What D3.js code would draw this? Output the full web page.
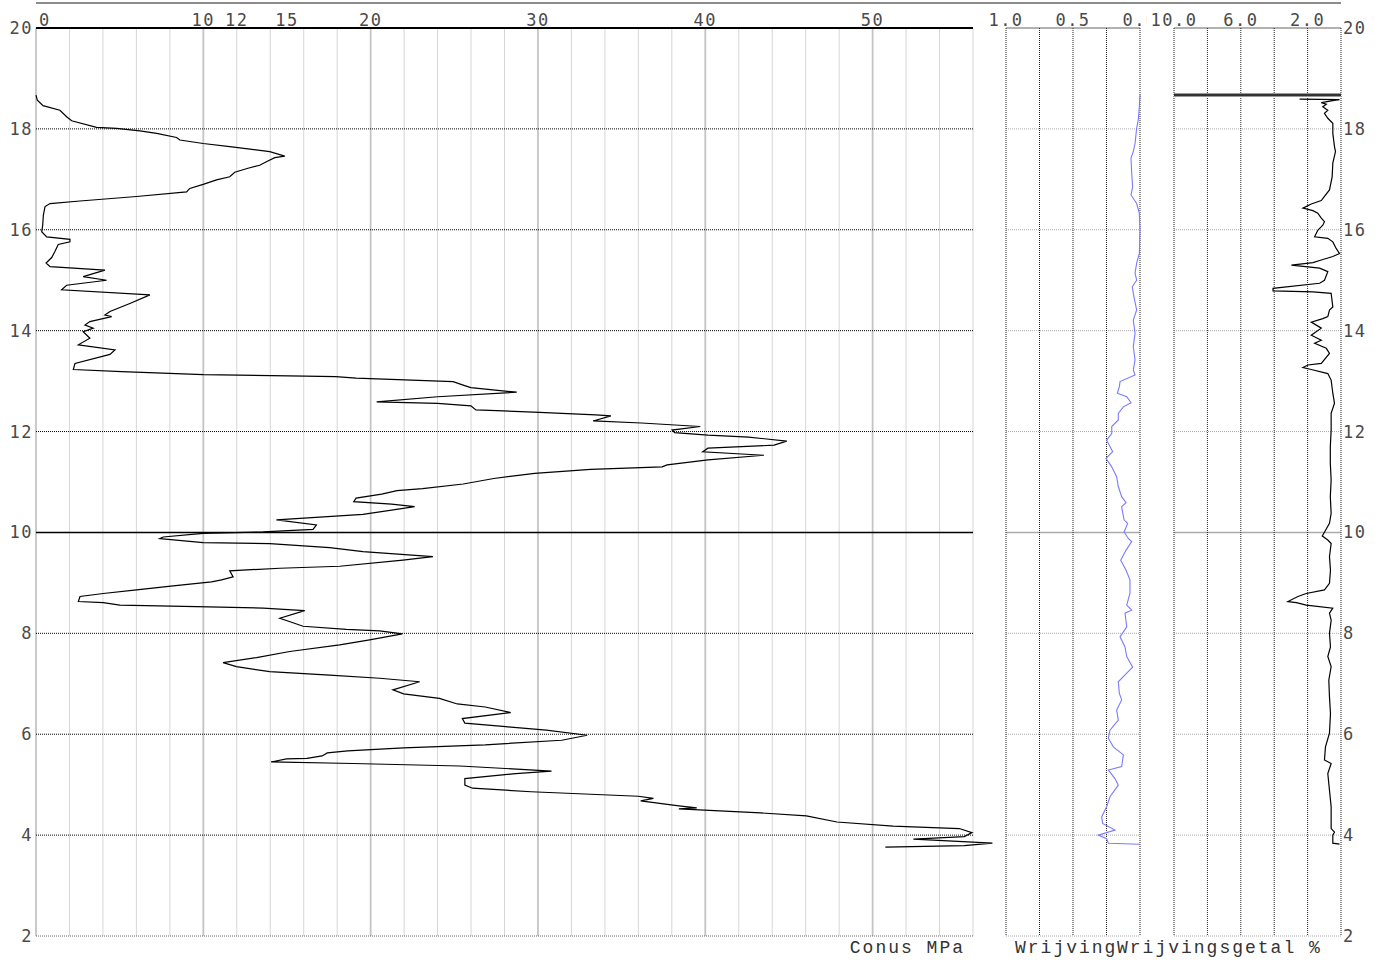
<!DOCTYPE html>
<html><head><meta charset="utf-8">
<script src="https://cdn.jsdelivr.net/npm/d3@7"></script>
<style>body{margin:0;background:#fff}svg{display:block}</style>
</head><body><svg id="c" width="1384" height="964"></svg>
<script>
// ---------- data ----------
const depthTicks = [20,18,16,14,12,10,8,6,4,2];
const coneGrid = [0,2,4,6,8,10,12,14,16,18,20,22,24,26,28,30,32,34,36,38,40,42,44,46,48,50,52,54,56];
const coneLabels = [0,10,12,15,20,30,40,50];
const frictionGrid = [1,0.75,0.5,0.25,0];
const frictionLabels = [1.0,0.5,0.0];
const ratioGrid = [10,8,6,4,2,0];
const ratioLabels = [10,6,2];
const titles = ["Conus MPa","Wrijving","Wrijvingsgetal %"];
const groundLevel = 18.67;

// [depth, cone resistance MPa]
const conePoints = [[18.67,0],[18.57,0.08],[18.46,0.42],[18.37,1.43],[18.24,1.83],[18.16,2.13],[18.03,3.62],[18.01,4.82],[17.96,6.21],[17.91,7.21],[17.83,8.40],[17.78,8.60],[17.71,9.99],[17.65,11.58],[17.55,13.97],[17.46,14.87],[17.43,14.27],[17.35,13.77],[17.28,13.37],[17.22,12.67],[17.14,11.88],[17.05,11.58],[16.99,10.79],[16.90,9.99],[16.82,9.19],[16.75,9.00],[16.66,6.01],[16.57,2.63],[16.52,0.84],[16.46,0.54],[16.29,0.44],[16.09,0.40],[15.96,0.34],[15.86,0.64],[15.81,2.03],[15.76,2.03],[15.71,1.33],[15.57,1.13],[15.45,0.94],[15.34,0.60],[15.27,0.84],[15.20,4.12],[15.07,2.82],[15.00,4.22],[14.90,1.83],[14.81,1.53],[14.71,6.81],[14.54,5.61],[14.38,4.42],[14.31,4.12],[14.28,4.52],[14.18,3.22],[14.11,2.93],[14.05,3.42],[13.98,2.82],[13.85,3.22],[13.72,2.53],[13.62,4.72],[13.53,4.42],[13.35,2.33],[13.23,2.23],[13.19,5.12],[13.13,10.00],[13.10,16.09],[13.09,17.91],[13.06,19.13],[12.99,24.93],[12.92,25.53],[12.87,25.99],[12.78,28.73],[12.69,24.00],[12.59,20.36],[12.56,24.00],[12.51,25.99],[12.43,26.29],[12.38,30.09],[12.33,33.45],[12.31,34.36],[12.21,33.30],[12.17,36.18],[12.10,39.70],[12.03,38.02],[11.98,38.17],[11.93,40.16],[11.89,42.59],[11.81,44.87],[11.73,44.11],[11.67,40.16],[11.60,39.85],[11.53,43.50],[11.44,40.16],[11.34,37.72],[11.30,37.42],[11.25,33.15],[11.17,29.80],[11.07,27.36],[10.96,25.53],[10.87,23.10],[10.83,21.57],[10.76,20.66],[10.68,19.13],[10.61,18.99],[10.56,21.25],[10.51,22.63],[10.36,19.54],[10.25,14.37],[10.15,16.76],[10.06,16.56],[10.01,13.57],[9.98,9.99],[9.91,7.60],[9.88,7.40],[9.80,9.99],[9.78,13.97],[9.70,17.55],[9.62,19.54],[9.52,23.72],[9.45,21.93],[9.33,18.15],[9.29,14.57],[9.24,11.58],[9.12,11.78],[9.06,11.09],[9.02,10.49],[8.94,8.20],[8.86,6.01],[8.79,4.02],[8.73,2.63],[8.63,2.53],[8.61,4.02],[8.56,5.01],[8.53,9.59],[8.50,13.57],[8.45,16.06],[8.30,14.57],[8.21,15.36],[8.14,15.96],[8.08,18.55],[8.05,20.54],[7.99,21.89],[7.87,19.94],[7.77,18.15],[7.64,15.16],[7.52,13.18],[7.42,11.18],[7.34,11.98],[7.24,13.97],[7.17,17.55],[7.11,20.54],[7.04,22.93],[6.88,21.33],[6.80,21.97],[6.71,24.11],[6.60,25.18],[6.54,26.85],[6.43,28.37],[6.31,25.48],[6.22,25.63],[6.15,28.07],[6.08,30.50],[5.98,32.94],[5.88,31.42],[5.79,26.85],[5.73,21.97],[5.67,18.63],[5.63,17.41],[5.57,17.10],[5.52,16.19],[5.51,14.97],[5.45,14.05],[5.42,18.93],[5.37,25.33],[5.27,30.81],[5.22,28.67],[5.12,25.63],[4.99,25.63],[4.93,26.09],[4.86,29.59],[4.77,35.99],[4.73,36.90],[4.68,36.14],[4.58,38.42],[4.54,39.49],[4.52,38.42],[4.44,43.30],[4.38,46.04],[4.26,47.87],[4.18,51.22],[4.13,55.18],[4.05,55.94],[3.97,55.48],[3.92,52.44],[3.84,57.16],[3.79,55.48],[3.76,50.76]];

// [depth, sleeve friction]
const frictionPoints = [[18.67,0],[18.44,0.005],[18.18,0.013],[18.01,0.025],[17.71,0.037],[17.55,0.05],[17.42,0.067],[17.12,0.062],[16.85,0.055],[16.69,0.067],[16.52,0.025],[16.33,0.005],[16.00,0],[15.53,0.005],[15.34,0.025],[15.14,0.037],[15.00,0.025],[14.87,0.058],[14.67,0.045],[14.41,0.025],[14.21,0.05],[13.95,0.037],[13.68,0.05],[13.42,0.037],[13.22,0.05],[13.12,0.037],[12.99,0.149],[12.89,0.154],[12.76,0.169],[12.69,0.099],[12.57,0.067],[12.49,0.124],[12.36,0.162],[12.23,0.162],[12.10,0.211],[11.96,0.211],[11.83,0.249],[11.60,0.204],[11.47,0.254],[11.30,0.211],[11.10,0.174],[10.91,0.162],[10.71,0.137],[10.59,0.104],[10.51,0.137],[10.25,0.119],[10.18,0.092],[10.01,0.119],[9.88,0.087],[9.82,0.062],[9.65,0.104],[9.45,0.144],[9.25,0.104],[9.06,0.075],[8.79,0.075],[8.56,0.099],[8.46,0.062],[8.40,0.112],[8.13,0.099],[7.93,0.149],[7.73,0.112],[7.54,0.099],[7.33,0.055],[7.21,0.099],[7.04,0.162],[6.81,0.154],[6.68,0.137],[6.48,0.174],[6.28,0.162],[6.08,0.224],[5.92,0.236],[5.75,0.199],[5.59,0.124],[5.36,0.137],[5.29,0.236],[5.12,0.187],[4.99,0.162],[4.76,0.224],[4.56,0.249],[4.36,0.286],[4.23,0.279],[4.10,0.187],[4.00,0.311],[3.93,0.249],[3.84,0.236],[3.82,0]];

// [depth, friction ratio %]
const ratioPoints = [[18.59,2.48],[18.58,0.09],[18.56,0.49],[18.52,1.18],[18.49,0.88],[18.44,1.09],[18.37,0.79],[18.31,0.99],[18.21,0.79],[18.11,0.49],[17.91,0.49],[17.65,0.39],[17.55,0.33],[17.32,0.49],[17.05,0.53],[16.79,0.69],[16.66,0.99],[16.58,1.18],[16.51,1.78],[16.43,2.28],[16.38,1.68],[16.33,1.39],[16.23,1.18],[16.16,0.99],[16.09,1.09],[15.99,1.39],[15.86,1.58],[15.83,0.79],[15.76,0.49],[15.63,0.29],[15.53,0.09],[15.47,0.49],[15.40,1.18],[15.35,1.68],[15.30,2.97],[15.24,1.28],[15.17,0.79],[15.00,0.99],[14.94,1.28],[14.84,4.07],[14.79,4.07],[14.77,1.68],[14.74,0.59],[14.47,0.49],[14.41,0.69],[14.28,0.79],[14.24,1.09],[14.17,1.78],[14.05,1.18],[13.91,1.78],[13.81,1.18],[13.75,1.58],[13.65,0.88],[13.55,0.69],[13.35,1.18],[13.32,1.98],[13.27,2.28],[13.23,1.78],[13.15,0.79],[13.02,0.59],[12.76,0.49],[12.56,0.39],[12.36,0.59],[12.03,0.59],[11.70,0.64],[11.37,0.64],[11.04,0.59],[10.71,0.64],[10.38,0.59],[10.18,0.69],[9.93,1.12],[9.85,0.79],[9.78,0.59],[9.52,0.69],[9.25,0.63],[8.99,0.69],[8.86,0.99],[8.79,2.08],[8.73,2.58],[8.63,3.18],[8.61,2.67],[8.56,2.08],[8.50,0.49],[8.40,0.69],[8.26,0.59],[8.00,0.69],[7.73,0.63],[7.54,0.79],[7.34,0.59],[7.07,0.73],[6.74,0.69],[6.41,0.63],[6.02,0.69],[5.75,0.93],[5.49,0.99],[5.42,0.59],[5.22,0.79],[4.89,0.69],[4.56,0.59],[4.13,0.59],[4.06,0.39],[4.00,0.49],[3.84,0.49],[3.82,0.09]];

// ---------- scales ----------
const y  = d3.scaleLinear().domain([20,2]).range([28,936]);
const xc = d3.scaleLinear().domain([0,56]).range([36,973]);
const xf = d3.scaleLinear().domain([1,0]).range([1006,1140]);
const xr = d3.scaleLinear().domain([10,0]).range([1174,1341]);

const svg = d3.select("#c");
svg.append("rect").attr("width",1384).attr("height",964).attr("fill","#fff");

const labelFont = "DejaVu Sans Mono";
const titleFont = "Liberation Mono";

// top gray rule
svg.append("line").attr("x1",xc(0)).attr("x2",xr(0)).attr("y1",3).attr("y2",3)
  .attr("stroke","#666").attr("stroke-width",1.5);

// ---------- labels (drawn before grids so panel borders stay on top) ----------
const lab = svg.append("g").attr("font-family",labelFont).attr("font-size",17)
  .attr("fill","#4a4a4a").attr("letter-spacing",1.5);
lab.selectAll("text.tc").data(coneLabels).join("text")
  .attr("x",d=> d===0 ? xc(d)+3 : xc(d)).attr("y",y(20)-2)
  .attr("text-anchor",d=> d===0 ? "start" : "middle").text(d=>d);
lab.selectAll("text.tf").data(frictionLabels).join("text")
  .attr("x",d=>xf(d)).attr("y",y(20)-2).attr("text-anchor","middle").text(d=>d.toFixed(1));
// ratio labels sit on an opaque background, as in the source plot
const rg = lab.selectAll("g.tr").data(ratioLabels).join("g");
rg.append("text")
  .attr("x",d=>xr(d)).attr("y",y(20)-2).attr("text-anchor","middle")
  .text(d=>d.toFixed(1));
rg.each(function(){
  const bb = d3.select(this).select("text").node().getBBox();
  d3.select(this).insert("rect","text").attr("x",bb.x-4).attr("y",bb.y)
    .attr("width",bb.width+4).attr("height",Math.max(0,y(20)-1-bb.y)).attr("fill","#fff");
});
lab.selectAll("text.yl").data(depthTicks).join("text")
  .attr("x",33).attr("y",d=>y(d)+6).attr("text-anchor","end").text(d=>d);
lab.selectAll("text.yr").data(depthTicks).join("text")
  .attr("x",1343).attr("y",d=>y(d)+6).attr("text-anchor","start").text(d=>d);

// ---------- side panels grid ----------
function sidePanel(xs, grid){
  const g = svg.append("g");
  const [a,b] = xs.range();
  g.selectAll("line.h").data(depthTicks).join("line")
    .attr("x1",a).attr("x2",b).attr("y1",d=>y(d)).attr("y2",d=>y(d))
    .attr("stroke", d=> d===20 ? "#999" : "#aaa")
    .attr("stroke-width", d=> (d===20||d===10) ? 1.5 : 1)
    .attr("stroke-dasharray", d=> (d===20||d===10) ? null : "1,1");
  g.selectAll("line.v").data(grid).join("line")
    .attr("x1",d=>xs(d)).attr("x2",d=>xs(d)).attr("y1",y(20)).attr("y2",y(2))
    .attr("stroke","#222").attr("stroke-width",1).attr("stroke-dasharray","1,1");
  return g;
}
sidePanel(xf, frictionGrid);
sidePanel(xr, ratioGrid);

// ---------- main panel grid ----------
const gm = svg.append("g");
gm.selectAll("line.v").data(coneGrid).join("line")
  .attr("x1",d=>xc(d)).attr("x2",d=>xc(d)).attr("y1",y(20)).attr("y2",y(2))
  .attr("stroke", d=> d%10===0 ? "#c4c4c4" : "#d6d6d6")
  .attr("stroke-width", d=> d%10===0 ? 1.8 : 1);
gm.selectAll("line.h").data(depthTicks).join("line")
  .attr("x1",xc(0)).attr("x2",xc(56)).attr("y1",d=>y(d)).attr("y2",d=>y(d))
  .attr("stroke", d=> d===2 ? "#666" : "#000")
  .attr("stroke-width", d=> d===20 ? 2 : (d===10 ? 1.6 : 1))
  .attr("stroke-dasharray", d=> (d===20||d===10) ? null : "1,1");

// ground level marker in ratio panel
svg.append("line").attr("x1",xr(10)).attr("x2",xr(0)).attr("y1",y(groundLevel)).attr("y2",y(groundLevel))
  .attr("stroke","#999").attr("stroke-width",4);
svg.append("line").attr("x1",xr(10)).attr("x2",xr(0)).attr("y1",y(groundLevel)).attr("y2",y(groundLevel))
  .attr("stroke","#333").attr("stroke-width",2);

// ---------- curves ----------
svg.append("path").datum(conePoints)
  .attr("d", d3.line().x(d=>xc(d[1])).y(d=>y(d[0])))
  .attr("fill","none").attr("stroke","#000").attr("stroke-width",1.2);
svg.append("path").datum(frictionPoints)
  .attr("d", d3.line().x(d=>xf(d[1])).y(d=>y(d[0])))
  .attr("fill","none").attr("stroke","#7a7aff").attr("stroke-width",1.1);
svg.append("path").datum(ratioPoints)
  .attr("d", d3.line().x(d=>xr(d[1])).y(d=>y(d[0])))
  .attr("fill","none").attr("stroke","#000").attr("stroke-width",1.2);

// ---------- titles ----------
const tt = svg.append("g").attr("font-family",titleFont).attr("font-size",18)
  .attr("fill","#333").attr("letter-spacing",2);
tt.append("text").attr("x",xc(56)-8).attr("y",953).attr("text-anchor","end").text(titles[0]);
tt.append("text").attr("x",xf(1)+9).attr("y",953).attr("text-anchor","start").text(titles[1]);
tt.append("text").attr("x",xf(0)-23).attr("y",953).attr("text-anchor","start").text(titles[2]);
</script></body></html>
